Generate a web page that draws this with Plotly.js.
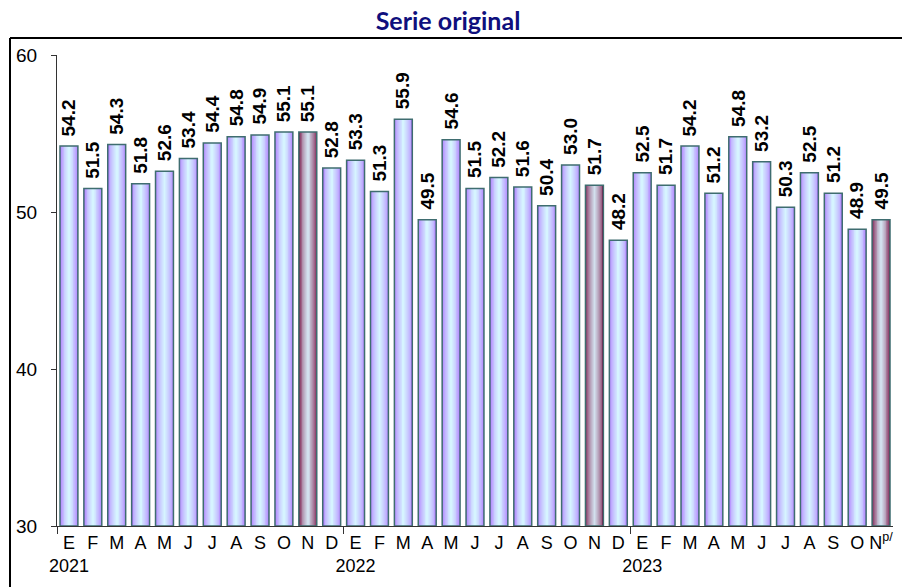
<!DOCTYPE html>
<html>
<head>
<meta charset="utf-8">
<script src="https://cdn.plot.ly/plotly-3.0.1.min.js"></script>
<style>
html,body{margin:0;padding:0;background:#fff;}
#chart{width:902px;height:587px;}
</style>
</head>
<body>
<div id="chart"></div>
<script>
// ---- data ----
const months = ["E","F","M","A","M","J","J","A","S","O","N","D",
                "E","F","M","A","M","J","J","A","S","O","N","D",
                "E","F","M","A","M","J","J","A","S","O","N"];
const yearLabels = ["2021","2022","2023"];
const yearStartIndex = [0, 12, 24];
const values = [54.2,51.5,54.3,51.8,52.6,53.4,54.4,54.8,54.9,55.1,55.1,52.8,
                53.3,51.3,55.9,49.5,54.6,51.5,52.2,51.6,50.4,53.0,51.7,48.2,
                52.5,51.7,54.2,51.2,54.8,53.2,50.3,52.5,51.2,48.9,49.5];
const lastSuffix = "p/";
const highlightMonth = "N";
const titleText = "Serie original";
const yTicks = [30,40,50,60];

// ---- build ----
const n = values.length;
const xs = values.map((v,i)=>i);
const ticktext = months.map((m,i)=>{
  let t = m;
  if (i === n-1) t = m + "<sup>" + lastSuffix + "</sup>";
  const yi = yearStartIndex.indexOf(i);
  if (yi >= 0) t += "<br>" + yearLabels[yi];
  return t;
});
const boundaries = yearStartIndex.map(i=>i-0.5);
const yMin = yTicks[0];

function lerp(a,b,t){return a.map((v,k)=>Math.round(v+(b[k]-v)*t));}
const normEdge=[176,124,255], normCenter=[214,244,255];
const hiEdge=[125,25,75], hiCenter=[210,224,238];

const BW = 0.75;
const NL = 10;
const traces = [];
for (let k=0;k<NL;k++){
  const t = Math.pow(k/(NL-1), 0.65);
  const w = BW*(1 - k/NL);
  const cN = 'rgb('+lerp(normEdge,normCenter,t).join(',')+')';
  const cH = 'rgb('+lerp(hiEdge,hiCenter,t).join(',')+')';
  traces.push({
    type:'bar', x:xs, y:values.map(v=>v-yMin), base:yMin, width:w,
    marker:{color:months.map(m=>m===highlightMonth?cH:cN), line:{width:0}},
    hoverinfo:'skip', showlegend:false
  });
}
// outline
traces.push({
  type:'bar', x:xs, y:values.map(v=>v-yMin), base:yMin, width:BW, xaxis:'x2', yaxis:'y',
  marker:{color:'rgba(0,0,0,0)', line:{color:'#3f6d70', width:1.5}},
  hoverinfo:'skip', showlegend:false
});

const annotations = values.map((v,i)=>({
  x:i, y:v, xref:'x', yref:'y', text:'<b>'+v.toFixed(1)+'</b>', showarrow:false,
  textangle:-90, xanchor:'center', yanchor:'bottom', yshift:8,
  font:{family:'Liberation Sans, Arial, sans-serif', size:19, color:'#000'}
}));

const L=57, R=9, T=55, B=61, W=902, H=587;
const pw=W-L-R, ph=H-T-B;
const px = x=>(x-L)/pw, py = y=>(H-B-y)/ph;

const layout = {
  width:W, height:H,
  margin:{l:L,r:R,t:T,b:B,pad:0},
  paper_bgcolor:'#fff', plot_bgcolor:'#fff',
  barmode:'overlay', bargap:0,
  font:{family:'Liberation Sans, Arial, sans-serif', color:'#000'},
  title:{text:'<b>'+titleText+'</b>', font:{family:'Lato, Open Sans, sans-serif', size:25, color:'#0f0f7d'},
         x:448/W, xref:'container', xanchor:'center', y:1-21/H, yanchor:'middle'},
  xaxis:{range:[-0.5,n-0.5], tickmode:'array', tickvals:xs, ticktext:ticktext, tickangle:0,
         ticks:'', showline:true, linecolor:'#333', linewidth:1, showgrid:false, zeroline:false,
         tickfont:{size:18, color:'#000'}, fixedrange:true},
  xaxis2:{overlaying:'x', anchor:'y', side:'bottom', range:[-0.5,n-0.5], tickmode:'array',
          tickvals:boundaries, ticks:'outside', ticklen:7, tickcolor:'#333', tickwidth:1,
          showticklabels:false, showline:false, showgrid:false, zeroline:false, fixedrange:true},
  yaxis:{range:[yTicks[0],yTicks[yTicks.length-1]], tickmode:'array', tickvals:yTicks, ticks:'outside', ticklen:5,
         tickcolor:'#333', showline:true, linecolor:'#333', linewidth:1, showgrid:false, zeroline:false,
         tickfont:{size:19, color:'#000'}, ticklabelstandoff:10, fixedrange:true},
  annotations:annotations,
  shapes:[
    {type:'line', xref:'paper', yref:'paper', x0:px(10), x1:px(W), y0:py(38), y1:py(38), line:{color:'#000', width:2}},
    {type:'line', xref:'paper', yref:'paper', x0:px(10), x1:px(10), y0:py(38), y1:py(H), line:{color:'#000', width:2}}
  ]
};
Plotly.newPlot('chart', traces, layout, {displayModeBar:false, staticPlot:true});
</script>
</body>
</html>
